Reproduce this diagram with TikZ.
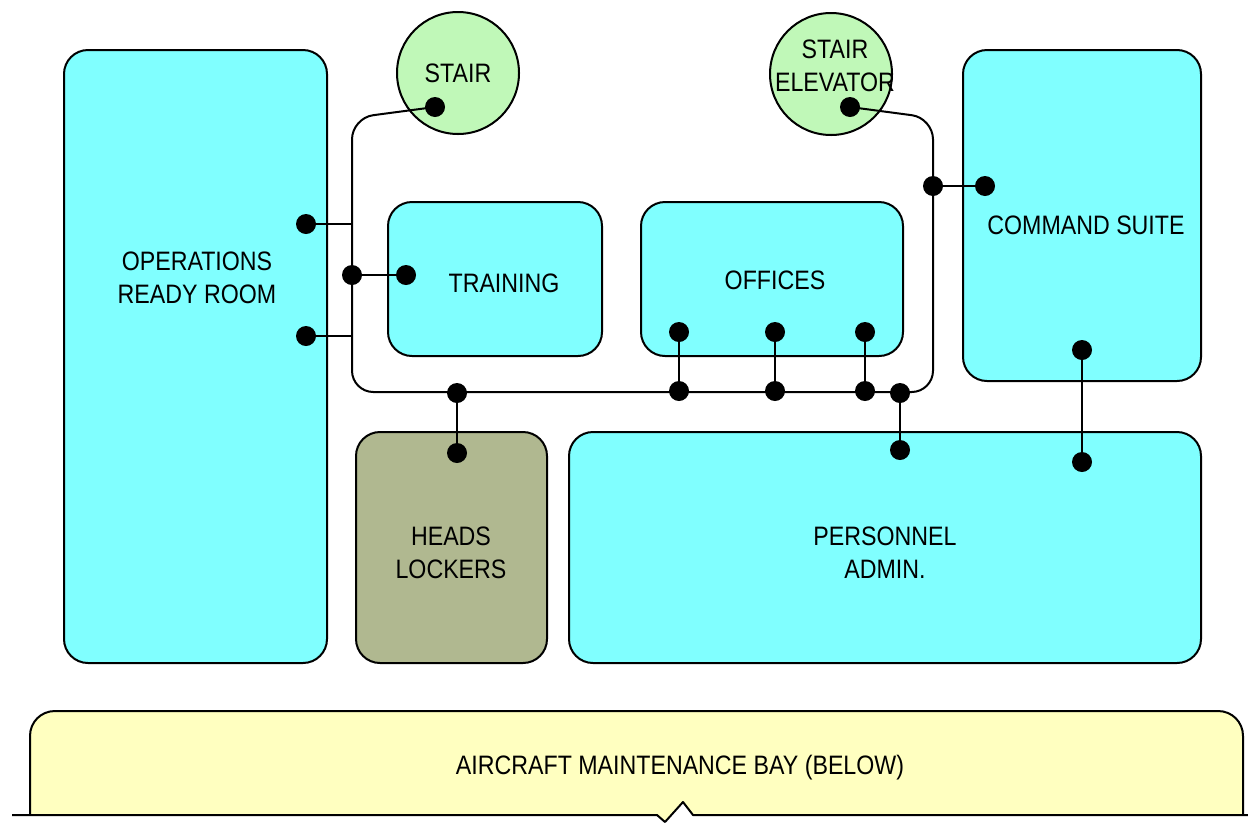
\documentclass[tikz,border=0pt]{standalone}
\usepackage{fontspec}
\setmainfont{Liberation Sans}[FakeStretch=0.87]
\usetikzlibrary{fit}
\definecolor{roomcyan}{RGB}{128,255,255}
\definecolor{stairgreen}{RGB}{192,248,184}
\definecolor{headsolive}{RGB}{176,184,144}
\definecolor{bayyellow}{RGB}{255,255,192}
\begin{document}
\begin{tikzpicture}[x=0.75pt,y=-0.75pt,
  room/.style={draw=black, line width=1.5pt, fill=roomcyan, rounded corners=18pt, inner sep=0pt},
  stairnode/.style={draw=black, line width=1.5pt, fill=stairgreen, circle, minimum size=91.5pt, inner sep=0pt},
  txt/.style={font=\fontsize{20}{24.5}\selectfont, align=center, inner sep=0pt},
  dot/.style={circle, fill=black, minimum size=15pt, inner sep=0pt},
  link/.style={line width=1.5pt, line join=round}]
\useasboundingbox (0,0) rectangle (1248,822);

% aircraft maintenance bay
\fill[bayyellow] (30,815) -- (30,736) .. controls (30,722) and (41,711) .. (55,711)
  -- (1218,711) .. controls (1232,711) and (1243,722) .. (1243,736) -- (1243,815)
  -- (693,815) -- (683,802) -- (665,822) -- (657,815) -- cycle;
\draw[link] (30,815) -- (30,736) .. controls (30,722) and (41,711) .. (55,711)
  -- (1218,711) .. controls (1232,711) and (1243,722) .. (1243,736) -- (1243,815);
\draw[link] (12,815) -- (657,815) -- (665,822) -- (683,802) -- (693,815) -- (1248,815);
\node[txt] (bayT) at (680,768) {AIRCRAFT MAINTENANCE BAY (BELOW)};

% rooms
\node[room, fit={(64,50) (327,663)}] (orr) {};
\node[room, fit={(388,202) (602,356)}] (train) {};
\node[room, fit={(641,202) (903,356)}] (off) {};
\node[room, fit={(963,50) (1201,381)}] (cmd) {};
\node[room, fill=headsolive, fit={(356,432) (547,663)}] (heads) {};
\node[room, fit={(569,432) (1201,663)}] (pers) {};

% stairs
\node[stairnode] (stairA) at (458,73) {};
\node[stairnode] (stairB) at (831,74) {};

% labels
\node[txt] (orrT) at (197,278) {OPERATIONS\\READY ROOM};
\node[txt] (trainT) at (504,283) {TRAINING};
\node[txt] (offT) at (775,280) {OFFICES};
\node[txt] (cmdT) at (1086,225) {COMMAND SUITE};
\node[txt] (headsT) at (451,553) {HEADS\\LOCKERS};
\node[txt] (persT) at (885,553) {PERSONNEL\\ADMIN.};
\node[txt] (stairAT) at (458,73) {STAIR};
\node[txt] (stairBT) at (835,66) {STAIR\\ELEVATOR};

% dots
\node[dot] (sdA) at (435,107) {};
\node[dot] (sdB) at (850,107) {};
\node[dot] (orrA) at (306,224) {};
\node[dot] (orrB) at (306,336) {};
\node[dot] (trJ) at (352,275) {};
\node[dot] (trD) at (406,275) {};
\node[dot] (ofD1) at (679,332) {};
\node[dot] (ofD2) at (775,332) {};
\node[dot] (ofD3) at (865,332) {};
\node[dot] (ofJ1) at (679,391) {};
\node[dot] (ofJ2) at (775,391) {};
\node[dot] (ofJ3) at (865,391) {};
\node[dot] (hdJ) at (457,393) {};
\node[dot] (hdD) at (457,453) {};
\node[dot] (peJ) at (900,393) {};
\node[dot] (peD) at (900,450) {};
\node[dot] (cmJ) at (933,186) {};
\node[dot] (cmD) at (985,186) {};
\node[dot] (cpA) at (1082,350) {};
\node[dot] (cpB) at (1082,462) {};

% corridor
\coordinate (ctl) at (352,118);
\coordinate (cbl) at (352,392);
\coordinate (cbr) at (933,392);
\coordinate (ctr) at (933,118);
\coordinate (jA) at (352,224);
\coordinate (jB) at (352,336);
\draw[link, rounded corners=16pt] (sdA.center) -- (ctl) -- (cbl) -- (cbr) -- (ctr) -- (sdB.center);

% connectors
\draw[link] (orrA) -- (jA);
\draw[link] (orrB) -- (jB);
\draw[link] (trJ) -- (trD);
\draw[link] (ofD1) -- (ofJ1);
\draw[link] (ofD2) -- (ofJ2);
\draw[link] (ofD3) -- (ofJ3);
\draw[link] (hdJ) -- (hdD);
\draw[link] (peJ) -- (peD);
\draw[link] (cmJ) -- (cmD);
\draw[link] (cpA) -- (cpB);
\end{tikzpicture}
\end{document}
